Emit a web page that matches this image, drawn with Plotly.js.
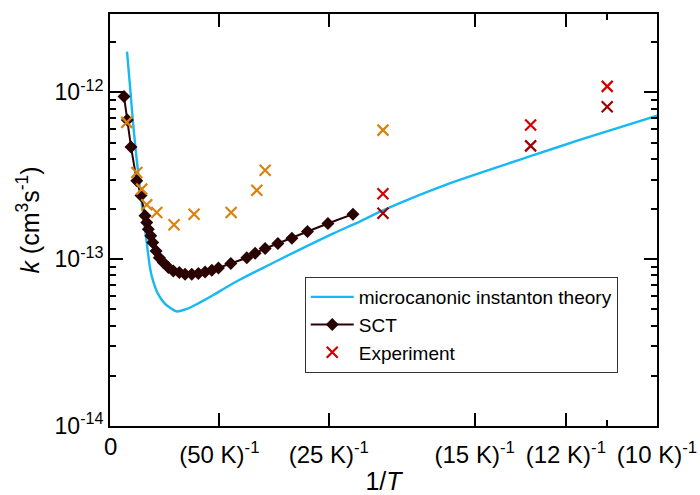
<!DOCTYPE html>
<html>
<head>
<meta charset="utf-8">
<script src="https://cdn.plot.ly/plotly-3.0.1.min.js"></script>
<style>html,body{margin:0;padding:0;background:#fff;}#chart{width:700px;height:495px;}</style>
</head>
<body>
<div id="chart"></div>
<script>
// microcanonic instanton theory (1/T in K^-1, k in cm^3 s^-1)
const instX = [0.00311, 0.00360, 0.00421, 0.00481, 0.00543, 0.00604, 0.00664, 0.00726, 0.00769, 0.00873, 0.01006, 0.01092, 0.01220, 0.01403, 0.01647, 0.01890, 0.02135, 0.02379, 0.02867, 0.03477, 0.04086, 0.04575, 0.04990, 0.06161, 0.07685, 0.08600, 0.10004];
const instK = [1.754e-12, 1.148e-12, 6.61e-13, 4.17e-13, 2.75e-13, 1.905e-13, 1.318e-13, 9.12e-14, 7.78e-14, 6.24e-14, 5.40e-14, 5.13e-14, 4.857e-14, 5.03e-14, 5.51e-14, 6.10e-14, 6.82e-14, 7.56e-14, 9.11e-14, 1.145e-13, 1.429e-13, 1.687e-13, 1.964e-13, 2.813e-13, 4.143e-13, 5.205e-13, 7.256e-13];

// SCT
const sctX = [0.00256, 0.00317, 0.00384, 0.00489, 0.00567, 0.00640, 0.00672, 0.00701, 0.00745, 0.00781, 0.00842, 0.00902, 0.00975, 0.01067, 0.01158, 0.01268, 0.01372, 0.01495, 0.01616, 0.01738, 0.01861, 0.01982, 0.02209, 0.02501, 0.02653, 0.02836, 0.03069, 0.03325, 0.03610, 0.03984, 0.04441];
const sctK = [9.46e-13, 6.84e-13, 4.71e-13, 2.95e-13, 2.41e-13, 1.82e-13, 1.66e-13, 1.51e-13, 1.38e-13, 1.26e-13, 1.12e-13, 1.02e-13, 9.55e-14, 8.91e-14, 8.51e-14, 8.32e-14, 8.13e-14, 8.13e-14, 8.22e-14, 8.38e-14, 8.59e-14, 8.87e-14, 9.42e-14, 1.02e-13, 1.086e-13, 1.159e-13, 1.242e-13, 1.337e-13, 1.466e-13, 1.637e-13, 1.862e-13];

// Experiments
const expOrangeX = [0.00306, 0.00489, 0.00580, 0.00672, 0.00855, 0.01171, 0.01537, 0.02214, 0.02684, 0.02836, 0.04990];
const expOrangeK = [6.61e-13, 3.31e-13, 2.63e-13, 2.12e-13, 1.905e-13, 1.607e-13, 1.862e-13, 1.905e-13, 2.59e-13, 3.41e-13, 5.94e-13];
const expRedX = [0.0499, 0.0769, 0.0909];
const expRedK = [2.47e-13, 6.37e-13, 1.087e-12];
const expDarkRedX = [0.0499, 0.0769, 0.0909];
const expDarkRedK = [1.884e-13, 4.78e-13, 8.2e-13];

// axis ticks
const xTickVals = [0, 1/50, 1/25, 1/15, 1/12, 1/10];
const xTickText = ['', '(50 K)<sup>-1</sup>', '(25 K)<sup>-1</sup>', '(15 K)<sup>-1</sup>', '(12 K)<sup>-1</sup>', '(10 K)<sup>-1</sup>'];
const xZeroLabel = '0';
const xMinorVals = [1/11];
const yTickVals = [1e-14, 1e-13, 1e-12];
const yTickText = ['10<sup>-14</sup>', '10<sup>-13</sup>', '10<sup>-12</sup>'];

const FONT = 'Liberation Sans, Arial, sans-serif';

const traces = [
  {x: instX, y: instK, mode: 'lines', name: 'microcanonic instanton theory',
   line: {color: '#18b9f2', width: 2.4, shape: 'spline', smoothing: 0.7}},
  {x: sctX, y: sctK, mode: 'lines+markers', name: 'SCT',
   line: {color: '#2a0202', width: 2},
   marker: {symbol: 'diamond', size: 10, color: '#2a0202'}},
  {x: expRedX, y: expRedK, mode: 'markers', name: 'Experiment',
   marker: {symbol: 'x-thin-open', size: 11, color: '#d40000', line: {color: '#d40000', width: 2.2}}},
  {x: expDarkRedX, y: expDarkRedK, mode: 'markers', showlegend: false,
   marker: {symbol: 'x-thin-open', size: 11, color: '#9e0000', line: {color: '#9e0000', width: 2.2}}},
  {x: expOrangeX, y: expOrangeK, mode: 'markers', showlegend: false,
   marker: {symbol: 'x-thin-open', size: 11, color: '#d9820f', line: {color: '#d9820f', width: 2.2}}}
];

const layout = {
  width: 700, height: 495,
  margin: {l: 110, r: 43, t: 14, b: 69},
  paper_bgcolor: '#fff', plot_bgcolor: '#fff',
  font: {family: FONT, size: 22, color: '#000'},
  showlegend: true,
  legend: {x: 0.356, y: 0.3617, xanchor: 'left', yanchor: 'top',
    bgcolor: '#fff', bordercolor: '#333', borderwidth: 1,
    font: {family: FONT, size: 19, color: '#000'}, itemwidth: 43,
    tracegroupgap: 0},
  annotations: [
    {x: 0, y: 0, xref: 'x', yref: 'paper', text: xZeroLabel, showarrow: false,
     xanchor: 'center', yanchor: 'top', yshift: -5,
     font: {family: FONT, size: 24, color: '#000'}}
  ],
  xaxis: {
    type: 'linear', range: [0, 0.1], showgrid: false, zeroline: false,
    showline: true, linecolor: '#000', linewidth: 2, mirror: 'ticks',
    ticks: 'inside', ticklen: 13, tickwidth: 2, tickcolor: '#000',
    tickmode: 'array', tickvals: xTickVals, ticktext: xTickText,
    ticklabelstandoff: 6,
    tickfont: {family: FONT, size: 24, color: '#000'},
    minor: {tickmode: 'array', tickvals: xMinorVals, ticks: 'inside', ticklen: 6, tickwidth: 2, tickcolor: '#000', showgrid: false},
    title: {text: '1/<i>T</i>', font: {family: FONT, size: 25, color: '#000'}, standoff: 8}
  },
  yaxis: {
    type: 'log', range: [-14, -11.53], showgrid: false, zeroline: false,
    showline: true, linecolor: '#000', linewidth: 2, mirror: 'ticks',
    ticks: 'inside', ticklen: 13, tickwidth: 2, tickcolor: '#000',
    tickmode: 'array', tickvals: yTickVals, ticktext: yTickText,
    tickfont: {family: FONT, size: 23, color: '#000'},
    minor: {dtick: 'D1', ticks: 'inside', ticklen: 6, tickwidth: 2, tickcolor: '#000', showgrid: false},
    title: {text: '<i>k</i> (cm<sup>3</sup>s<sup>-1</sup>)', font: {family: FONT, size: 25, color: '#000'}, standoff: 8}
  }
};

Plotly.newPlot('chart', traces, layout, {displayModeBar: false, staticPlot: true});
</script>
</body>
</html>
